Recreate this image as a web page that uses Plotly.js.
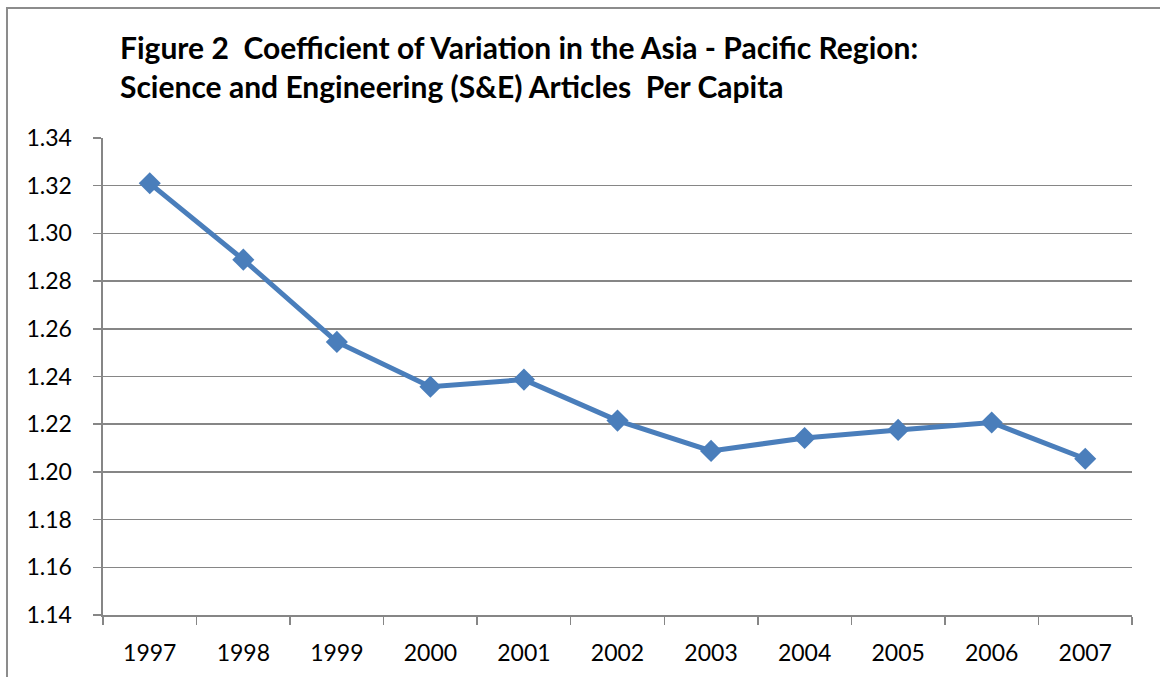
<!DOCTYPE html>
<html>
<head>
<meta charset="utf-8">
<script src="https://cdn.plot.ly/plotly-3.0.1.min.js"></script>
<style>html,body{margin:0;padding:0;background:#fff;}#chart{width:1160px;height:677px;}</style>
</head>
<body>
<div id="chart"></div>
<script>
var years = ["1997","1998","1999","2000","2001","2002","2003","2004","2005","2006","2007"];
var cvValues = [1.321, 1.289, 1.2545, 1.2357, 1.2387, 1.2215, 1.2088, 1.2142, 1.2176, 1.2207, 1.2055];
var yTickVals = [1.14,1.16,1.18,1.20,1.22,1.24,1.26,1.28,1.30,1.32,1.34];
var titleText = "Figure 2  Coefficient of Variation in the Asia - Pacific Region:<br>Science and Engineering (S&E) Articles  Per Capita";

var trace = {
  x: years, y: cvValues, type: "scatter", mode: "lines+markers",
  line: {color: "#4A7EBB", width: 5},
  marker: {symbol: "diamond", size: 17, color: "#4A7EBB"},
  hoverinfo: "x+y"
};
var layout = {
  width: 1160, height: 677,
  margin: {l: 103, r: 28, t: 138, b: 62},
  paper_bgcolor: "#fff", plot_bgcolor: "#fff",
  showlegend: false,
  font: {family: "Lato, 'Open Sans', sans-serif", color: "#000"},
  title: {text: titleText, x: 120/1160, xanchor: "left", yref: "container", y: 1 - 59/677, yanchor: "top",
          font: {family: "Lato, sans-serif", size: 30, color: "#000", weight: "bold"}},
  xaxis: {type: "category", range: [-0.5, 10.5], tickson: "boundaries", ticks: "outside", ticklen: 8,
          tickcolor: "#868686", tickwidth: 1.5, showline: true, linecolor: "#868686", linewidth: 2,
          showgrid: false, zeroline: false, tickfont: {size: 23, family: "Lato, sans-serif"},
          ticklabelstandoff: 16, fixedrange: true},
  yaxis: {range: [1.14, 1.34], tickvals: yTickVals, ticktext: yTickVals.map(function(v){return v.toFixed(2);}),
          ticks: "outside", ticklen: 8, tickcolor: "#868686", tickwidth: 1.5,
          showline: true, linecolor: "#868686", linewidth: 2.5, showgrid: true, gridcolor: "#868686", gridwidth: 1.5,
          zeroline: false, tickfont: {size: 23, family: "Lato, sans-serif"}, ticklabelstandoff: 16, fixedrange: true},
  shapes: [{type: "path", xref: "paper", yref: "paper",
            path: "M -0.0933,-0.2 L -0.0933,1.2725 L 1.1,1.2725",
            line: {color: "#8c8c8c", width: 2}}]
};
Plotly.newPlot("chart", [trace], layout, {displayModeBar: false, staticPlot: true});
</script>
</body>
</html>
